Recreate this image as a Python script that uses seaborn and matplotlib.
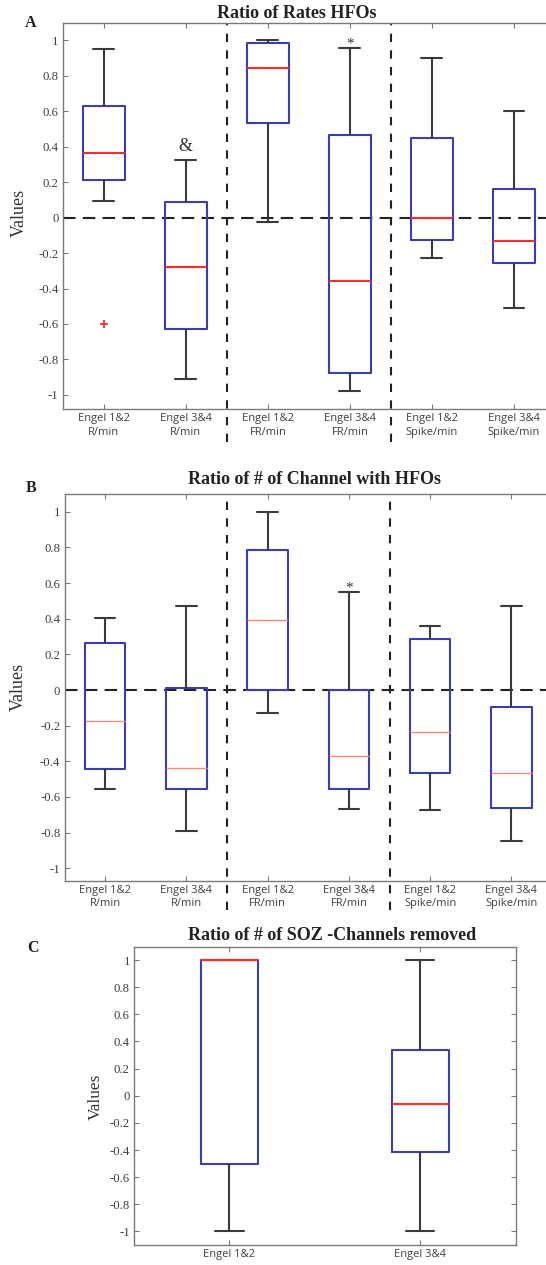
import numpy as np
import pandas as pd
import matplotlib
matplotlib.use("Agg")
import matplotlib.pyplot as plt
import seaborn as sns

# ---------------- data ----------------
cats_AB = ["Engel 1&2\nR/min", "Engel 3&4\nR/min",
           "Engel 1&2\nFR/min", "Engel 3&4\nFR/min",
           "Engel 1&2\nSpike/min", "Engel 3&4\nSpike/min"]
cats_C = ["Engel 1&2", "Engel 3&4"]

# Panel A: Ratio of Rates HFOs (five-number summaries)
A_low  = [0.096, -0.912, -0.023, -0.981, -0.226, -0.508]
A_q1   = [0.211, -0.630,  0.532, -0.878, -0.128, -0.254]
A_med  = [0.363, -0.276,  0.846, -0.357,  0.000, -0.132]
A_q3   = [0.630,  0.086,  0.985,  0.464,  0.447,  0.164]
A_high = [0.951,  0.323,  1.000,  0.955,  0.898,  0.603]
A_outlier_cat = [0]
A_outlier_val = [-0.60]

# Panel B: Ratio of # of Channel with HFOs
B_low  = [-0.557, -0.792, -0.128, -0.666, -0.675, -0.845]
B_q1   = [-0.441, -0.555,  0.000, -0.555, -0.465, -0.664]
B_med  = [-0.176, -0.435,  0.394, -0.373, -0.235, -0.467]
B_q3   = [ 0.263,  0.011,  0.784,  0.000,  0.289, -0.098]
B_high = [ 0.403,  0.469,  1.000,  0.550,  0.362,  0.469]

# Panel C: Ratio of # of SOZ -Channels removed
C_low  = [-1.000, -1.000]
C_q1   = [-0.500, -0.415]
C_med  = [ 1.000, -0.058]
C_q3   = [ 1.000,  0.334]
C_high = [ 1.000,  1.000]

yticks = [-1, -0.8, -0.6, -0.4, -0.2, 0, 0.2, 0.4, 0.6, 0.8, 1]
ytick_labels = ["-1", "-0.8", "-0.6", "-0.4", "-0.2", "0",
                "0.2", "0.4", "0.6", "0.8", "1"]

# annotations: (category index, y value, text)
A_marks = [(1, 0.352, "&"), (3, 0.945, "*")]
B_marks = [(3, 0.535, "*")]


def long_df(cats, *cols):
    rows = []
    for i, c in enumerate(cats):
        for col in cols:
            rows.append((c, col[i]))
    return pd.DataFrame(rows, columns=["group", "value"])


# ---------------- style ----------------
sns.set_theme(style="white")
plt.rcParams["font.family"] = ["Liberation Serif", "DejaVu Serif"]
plt.rcParams["axes.unicode_minus"] = False

BLUE = "#3c3cb4"
RED = "#ff2a2a"
RED_LIGHT = "#ff8a7a"
DARK = "#3a3a3a"
SPINE = "#7a7a7a"
TICKC = "#404040"

W, H = 546, 1265
fig = plt.figure(figsize=(W / 100, H / 100), dpi=100)


def px_axes(left, right, top, bottom):
    return fig.add_axes([left / W, 1 - bottom / H, (right - left) / W, (bottom - top) / H])


def draw_panel(ax, cats, low, q1, med, q3, high, width, med_color, med_lw,
               ylim, vlines, xl_extend, zero_line=True):
    df = long_df(cats, low, q1, med, q3, high)
    sns.boxplot(data=df, x="group", y="value", order=cats, ax=ax,
                fill=False, color=BLUE, width=width, whis=np.inf,
                linewidth=1.5,
                boxprops=dict(color=BLUE, linewidth=1.5),
                medianprops=dict(color=med_color, linewidth=med_lw),
                whiskerprops=dict(color=DARK, linewidth=1.5),
                capprops=dict(color=DARK, linewidth=1.5),
                showfliers=False)
    n = len(cats)
    ax.set_xlim(-0.5, n - 0.5)
    ax.set_ylim(*ylim)
    ax.set_yticks(yticks)
    ax.set_yticklabels(ytick_labels)
    ax.set_xticks(range(n))
    ax.set_xticklabels(cats, family=["Open Sans", "DejaVu Sans"], fontsize=8,
                       color=TICKC, linespacing=1.3)
    for lab in ax.get_yticklabels():
        lab.set_fontsize(9.2)
        lab.set_color(TICKC)
    ax.tick_params(axis="both", direction="in", length=3.5, width=0.8,
                   color=SPINE, top=True, right=True, left=True, bottom=True)
    ax.tick_params(axis="y", pad=3)
    ax.tick_params(axis="x", pad=3)
    for s in ax.spines.values():
        s.set_color(SPINE)
        s.set_linewidth(1.0)
        s.set_visible(True)
    ax.set_xlabel("")
    ax.set_ylabel("")
    if zero_line:
        ax.axhline(0, color="#222222", lw=1.5, dashes=(6, 3.5), zorder=1)
    for xv in vlines:
        ax.axvline(xv, ymin=xl_extend, ymax=1.0, color="#222222", lw=1.5,
                   dashes=(4, 4), clip_on=False, zorder=1)


# Panel A
axA = px_axes(62.7, 555, 22.7, 409)
draw_panel(axA, cats_AB, A_low, A_q1, A_med, A_q3, A_high, 0.51, RED, 1.5,
           (-1.08, 1.10), [1.5, 3.5], -0.085)
sns.scatterplot(x=A_outlier_cat, y=A_outlier_val, ax=axA, marker="+",
                color=RED, s=40, linewidth=1.3, legend=False, zorder=5)
axA.set_xlim(-0.5, 5.5)
for ci, yv, t in A_marks:
    axA.text(ci, yv, t, ha="center", va="bottom", fontsize=13 if t == "&" else 11,
             color="#333333")

# Panel B
axB = px_axes(64.5, 552, 494, 880.7)
draw_panel(axB, cats_AB, B_low, B_q1, B_med, B_q3, B_high, 0.50, RED_LIGHT, 1.0,
           (-1.07, 1.10), [1.5, 3.5], -0.075)
for ci, yv, t in B_marks:
    axB.text(ci, yv, t, ha="center", va="bottom", fontsize=11, color="#333333")

# Panel C
axC = px_axes(134, 515.5, 946.5, 1245)
draw_panel(axC, cats_C, C_low, C_q1, C_med, C_q3, C_high, 0.30, RED, 1.5,
           (-1.10, 1.10), [], 0, zero_line=False)

# titles, y labels, panel letters (positions in pixels)
def ftext(x, y, s, **kw):
    fig.text(x / W, 1 - y / H, s, **kw)

ftext(297, 14, "Ratio of Rates HFOs", ha="center", va="center",
      fontsize=13, fontweight="bold", color="#222222")
ftext(314, 480, "Ratio of # of Channel with HFOs", ha="center", va="center",
      fontsize=13, fontweight="bold", color="#222222")
ftext(332, 936, "Ratio of # of SOZ -Channels removed", ha="center", va="center",
      fontsize=13, fontweight="bold", color="#222222")

ftext(19, 213, "Values", ha="center", va="center", rotation=90, fontsize=13, color="#333333")
ftext(18, 687, "Values", ha="center", va="center", rotation=90, fontsize=13, color="#333333")
ftext(96, 1097, "Values", ha="center", va="center", rotation=90, fontsize=12.5, color="#333333")

ftext(31, 23, "A", ha="center", va="center", fontsize=11.5, fontweight="bold", color="#222222")
ftext(31, 488, "B", ha="center", va="center", fontsize=11.5, fontweight="bold", color="#222222")
ftext(33, 948, "C", ha="center", va="center", fontsize=11.5, fontweight="bold", color="#222222")

fig.savefig("out.png", dpi=100)
